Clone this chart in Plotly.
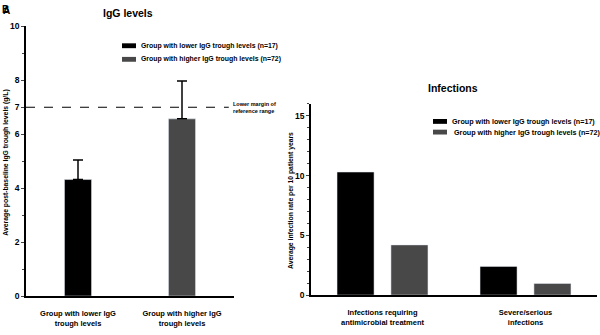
import plotly.graph_objects as go

# ---- data ----
igg_groups = ["Group with lower IgG<br>trough levels", "Group with higher IgG<br>trough levels"]
igg_means = [4.32, 6.57]
igg_err_up = [0.72, 1.40]
ref_margin = 7

inf_categories = ["Infections requiring<br>antimicrobial treatment", "Severe/serious<br>infections"]
inf_lower = [10.3, 2.4]
inf_higher = [4.2, 0.97]

legend_labels = ["Group with lower IgG trough levels (n=17)", " Group with higher IgG trough levels (n=72)"]
left_ticks = [0, 2, 4, 6, 7, 8, 10]
left_minor = [1, 3, 5, 9]
right_ticks = [0, 5, 10, 15]
left_ytitle = "Average post-baseline IgG trough levels (g/L)"
right_ytitle = "Average infection rate per 10 patient years"

BLACK = "#000000"
GRAY = "#484848"
FONT = "Liberation Sans"
W, H = 600, 335


def px(x):
    return x / W


def py(y):
    return 1 - y / H


def b(s):
    return "<b>" + str(s).replace("<br>", "</b><br><b>") + "</b>"


fig = go.Figure()

# Left chart bars
fig.add_trace(go.Bar(x=[0], y=[igg_means[0]], marker_color=BLACK, width=0.26, offset=-0.13,
                     error_y=dict(type="data", array=[igg_err_up[0]], arrayminus=[0], symmetric=False,
                                  color=BLACK, thickness=1.5, width=5),
                     xaxis="x", yaxis="y", showlegend=False))
fig.add_trace(go.Bar(x=[1], y=[igg_means[1]], marker_color=GRAY, width=0.26, offset=-0.13,
                     error_y=dict(type="data", array=[igg_err_up[1]], arrayminus=[0], symmetric=False,
                                  color=BLACK, thickness=1.5, width=5),
                     xaxis="x", yaxis="y", showlegend=False))

# Right chart bars
fig.add_trace(go.Bar(x=[0, 1], y=inf_lower, marker_color=BLACK, width=0.259, offset=-0.318,
                     xaxis="x2", yaxis="y2", showlegend=False))
fig.add_trace(go.Bar(x=[0, 1], y=inf_higher, marker_color=GRAY, width=0.259, offset=0.059,
                     xaxis="x2", yaxis="y2", showlegend=False))

axis_common = dict(showline=True, linecolor="black", linewidth=1.5, showgrid=False, zeroline=False)
tickfont = dict(family=FONT, size=8.5, color="black")
catfont = dict(family=FONT, size=7.5, color="black")

fig.update_layout(
    width=W, height=H, margin=dict(l=0, r=0, t=0, b=0),
    plot_bgcolor="white", paper_bgcolor="white", barmode="overlay",
    xaxis=dict(domain=[px(26), px(234)], range=[-0.5, 1.5], tickvals=[0, 1], ticktext=[b(t) for t in igg_groups],
               ticks="", tickfont=catfont, ticklabelstandoff=9, anchor="y", **axis_common),
    yaxis=dict(domain=[py(300), py(22)], range=[0, 10], tickvals=left_ticks, ticktext=[b(t) for t in left_ticks],
               ticks="outside", ticklen=3, tickwidth=1.2, tickfont=tickfont, anchor="x",
               minor=dict(tickvals=left_minor, ticks="outside", ticklen=2, tickwidth=1),
               **axis_common),
    xaxis2=dict(domain=[px(311), px(597)], range=[-0.5, 1.5], tickvals=[0, 1], ticktext=[b(t) for t in inf_categories],
                ticks="", tickfont=catfont, ticklabelstandoff=9, anchor="y2", **axis_common),
    yaxis2=dict(domain=[py(299), py(102)], range=[0, 16], tickvals=right_ticks, ticktext=[b(t) for t in right_ticks],
                ticks="outside", ticklen=3, tickwidth=1.2, tickfont=tickfont, anchor="x2",
                minor=dict(dtick=1, ticks="outside", ticklen=2, tickwidth=1),
                **axis_common),
)

shapes = [
    dict(type="line", xref="x domain", yref="y", x0=0, x1=0.975, y0=ref_margin, y1=ref_margin,
         line=dict(color="black", width=1.2, dash="dash")),
]
annotations = [
    dict(text=b("Lower margin of<br>reference range"), x=px(231), y=ref_margin, xref="paper", yref="y",
         xanchor="left", yanchor="middle", showarrow=False, align="left",
         font=dict(family=FONT, size=5.5, color="black")),
    dict(text=b("IgG levels"), x=px(128), y=py(8), xref="paper", yref="paper", showarrow=False,
         xanchor="center", yanchor="middle", font=dict(family=FONT, size=10.5, color="black")),
    dict(text=b("Infections"), x=px(453), y=py(86), xref="paper", yref="paper", showarrow=False,
         xanchor="center", yanchor="middle", font=dict(family=FONT, size=10.5, color="black")),
    dict(text=b("B"), x=px(0), y=py(5), xref="paper", yref="paper", showarrow=False,
         xanchor="left", yanchor="middle", font=dict(family=FONT, size=10, color="black")),
    dict(text=b("A"), x=px(1), y=py(6), xref="paper", yref="paper", showarrow=False,
         xanchor="left", yanchor="middle", font=dict(family=FONT, size=10, color="black")),
    dict(text=b(left_ytitle), x=px(6.5), y=py(163), xref="paper", yref="paper", showarrow=False,
         textangle=-90, xanchor="center", yanchor="middle", font=dict(family=FONT, size=6.8, color="black")),
    dict(text=b(right_ytitle), x=px(291), y=py(202), xref="paper", yref="paper", showarrow=False,
         textangle=-90, xanchor="center", yanchor="middle", font=dict(family=FONT, size=6.8, color="black")),
]

# Custom legends (swatch + text)
legend_specs = [
    (122, 139, [42, 56], 6.9),   # left chart: swatch x, text x, row centres, font size
    (433, 450, [120, 131], 7.2),
]
for sx, tx, rows, fs in legend_specs:
    for i, (lab, col) in enumerate(zip(legend_labels, [BLACK, GRAY])):
        yc = rows[i]
        shapes.append(dict(type="rect", xref="paper", yref="paper", x0=px(sx), x1=px(sx + 14),
                           y0=py(yc + 2.5), y1=py(yc - 2.5), fillcolor=col, line=dict(width=0)))
        text = lab if sx > 300 else lab.strip()
        annotations.append(dict(text=b(text), x=px(tx), y=py(yc),
                                xref="paper", yref="paper", showarrow=False, xanchor="left",
                                yanchor="middle", font=dict(family=FONT, size=fs, color="black")))

fig.update_layout(shapes=shapes, annotations=annotations)
fig.write_html("out.html", config={"displayModeBar": False},
               post_script="document.body.style.margin='0';document.body.style.overflow='hidden';")
